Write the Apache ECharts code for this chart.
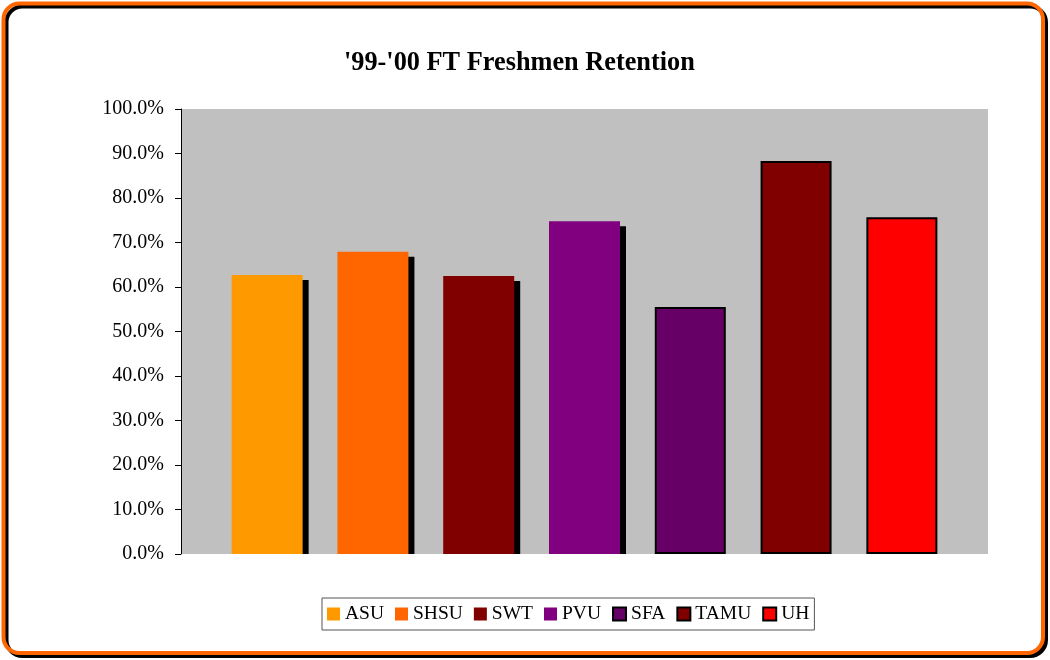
<!DOCTYPE html>
<html>
<head>
<meta charset="utf-8">
<script src="https://cdn.jsdelivr.net/npm/echarts@6/dist/echarts.min.js"></script>
<style>
html,body{margin:0;padding:0;background:#fff;}
#chart{width:1050px;height:660px;}
</style>
</head>
<body>
<div id="chart"></div>
<script>
const schools = ['ASU', 'SHSU', 'SWT', 'PVU', 'SFA', 'TAMU', 'UH'];
const retention = [0.627, 0.679, 0.625, 0.748, 0.555, 0.883, 0.757];
const barColors = ['#FF9900', '#FF6600', '#800000', '#800080', '#660066', '#800000', '#FF0000'];
const shadowed = [true, true, true, true, false, false, false];
const yTicks = [0, 0.1, 0.2, 0.3, 0.4, 0.5, 0.6, 0.7, 0.8, 0.9, 1.0];

const FONT = 'Liberation Serif';
const chart = echarts.init(document.getElementById('chart'));

const series = schools.map((name, i) => {
  const itemStyle = { color: barColors[i] };
  if (shadowed[i]) {
    itemStyle.shadowColor = '#000';
    itemStyle.shadowBlur = 0;
    itemStyle.shadowOffsetX = 6;
    itemStyle.shadowOffsetY = 5;
  } else {
    itemStyle.borderColor = '#000';
    itemStyle.borderWidth = 2;
  }
  return {
    name: name,
    type: 'bar',
    data: [retention[i]],
    barWidth: 71,
    barGap: '49%',
    itemStyle: itemStyle,
    emphasis: { disabled: true },
    z: 2
  };
});

chart.setOption({
  animation: false,
  backgroundColor: '#fff',
  graphic: [
    {
      type: 'rect',
      z: -100,
      silent: true,
      shape: { x: 3.5, y: 3.5, width: 1039.5, height: 649.5, r: 16 },
      style: {
        fill: '#fff', stroke: '#FF6600', lineWidth: 4,
        shadowColor: '#000', shadowBlur: 0, shadowOffsetX: 3, shadowOffsetY: 3
      }
    },
    {
      type: 'rect',
      z: 100,
      silent: true,
      shape: { x: 182, y: 554, width: 820, height: 9 },
      style: { fill: '#fff' }
    }
  ],
  title: {
    text: "'99-'00 FT Freshmen Retention",
    left: 344,
    top: 50,
    padding: 0,
    textStyle: { fontFamily: FONT, fontSize: 26.3, fontWeight: 'bold', color: '#000' }
  },
  legend: {
    data: schools,
    left: 322,
    top: 598,
    padding: [6, 5],
    itemWidth: 13,
    itemHeight: 13,
    itemGap: 11,
    icon: 'rect',
    backgroundColor: '#fff',
    borderColor: '#555',
    borderWidth: 1,
    textStyle: { fontFamily: FONT, fontSize: 19.5, color: '#000' },
    itemStyle: { shadowColor: 'transparent', shadowBlur: 0, shadowOffsetX: 0, shadowOffsetY: 0 },
    selectedMode: false
  },
  grid: {
    left: 181,
    right: 62,
    top: 109,
    bottom: 106,
    show: true,
    backgroundColor: '#C0C0C0',
    borderWidth: 0
  },
  xAxis: {
    type: 'category',
    data: [''],
    axisLine: { show: false },
    axisTick: { show: false },
    axisLabel: { show: false }
  },
  yAxis: {
    type: 'value',
    min: yTicks[0],
    max: yTicks[yTicks.length - 1],
    interval: 0.1,
    axisLine: { show: true, lineStyle: { color: '#000', width: 1 } },
    axisTick: { show: true, length: 6, lineStyle: { color: '#000' } },
    splitLine: { show: false },
    axisLabel: {
      margin: 17,
      fontFamily: FONT,
      fontSize: 20,
      color: '#000',
      formatter: v => (v * 100).toFixed(1) + '%'
    }
  },
  series: series
});
</script>
</body>
</html>
